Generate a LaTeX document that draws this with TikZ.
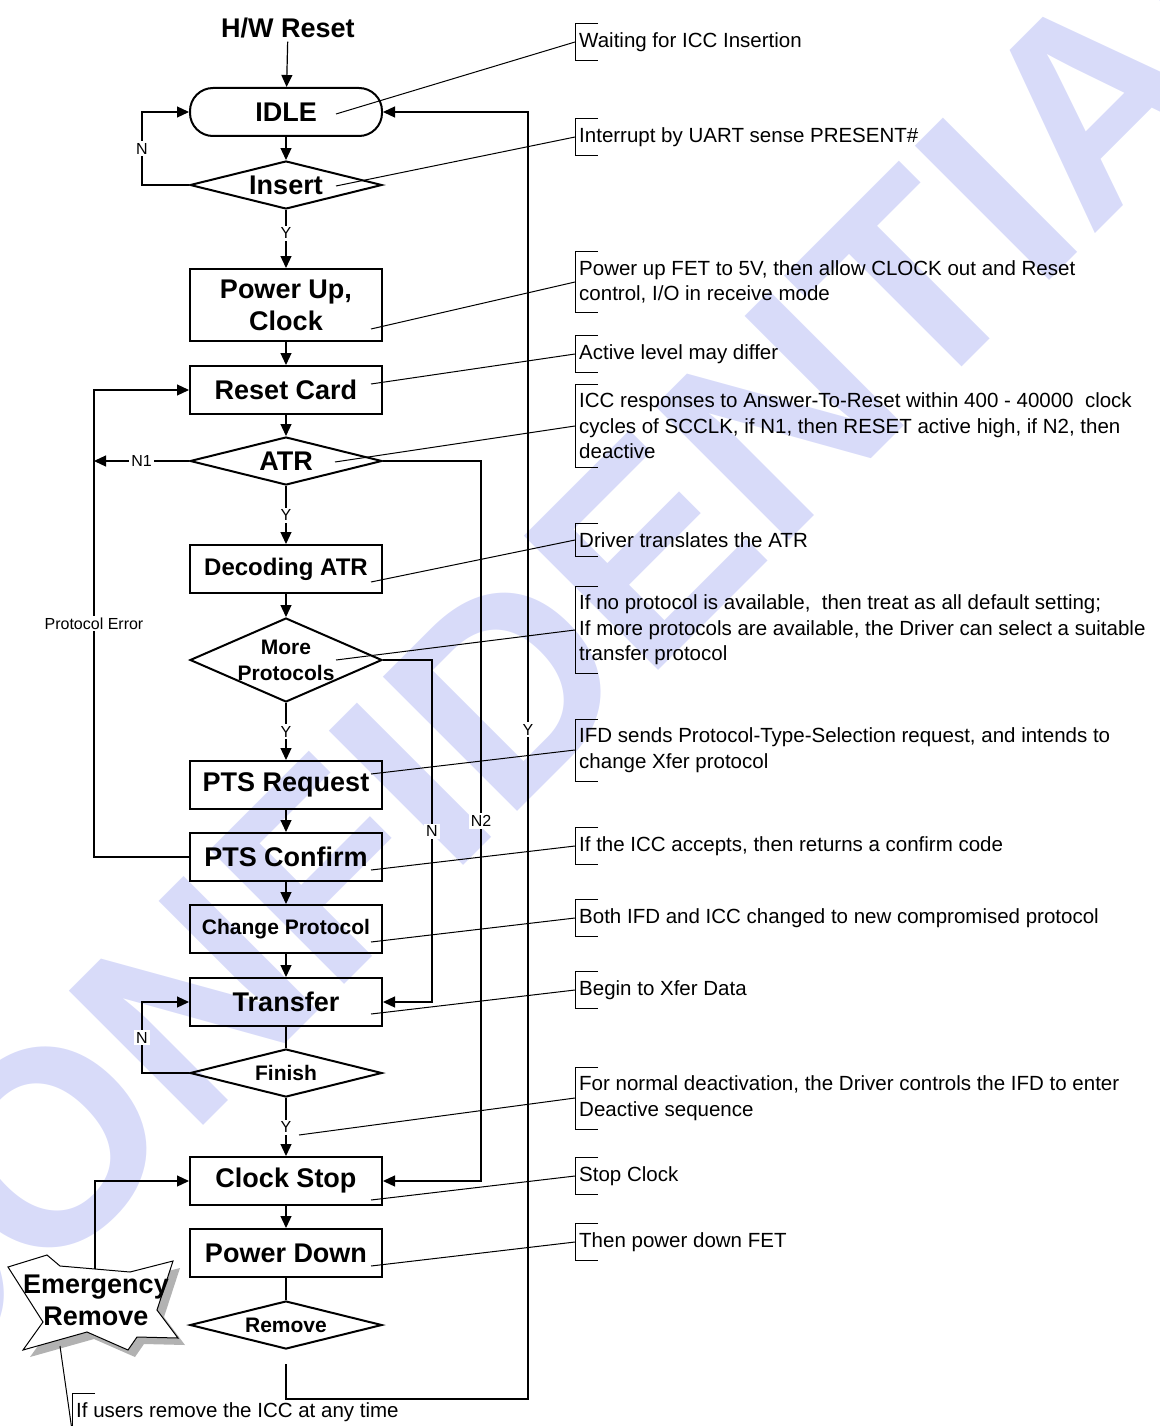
\documentclass[tikz,border=0pt]{standalone}
\usepackage{fontspec}
\setmainfont{Liberation Sans}
\usetikzlibrary{arrows.meta,shapes.geometric}
\definecolor{wmark}{RGB}{216,219,249}
\newcommand{\boxfont}{\bfseries\fontsize{27}{32}\selectfont}
\newcommand{\midfont}{\bfseries\fontsize{24}{28}\selectfont}
\newcommand{\smallboxfont}{\bfseries\fontsize{21}{26}\selectfont}
\newcommand{\notefont}{\fontsize{20.5}{25.5}\selectfont}
\newcommand{\tagfont}{\fontsize{16}{18}\selectfont}

\begin{document}
\begin{tikzpicture}[x=1pt,y=-1pt]
    \tikzstyle{box}=[rectangle,draw,line width=2pt,minimum width=192pt,minimum height=48pt,inner sep=0pt,font=\boxfont,align=center]
    \tikzstyle{terminal}=[box,rounded corners=23pt]
    \tikzstyle{decision}=[diamond,draw,line width=2pt,minimum width=192pt,minimum height=48pt,aspect=4,inner sep=0pt,font=\boxfont,align=center]
    \tikzstyle{flow}=[line width=1.2pt,-{Triangle[length=12pt,width=11pt]}]
    \tikzstyle{line}=[line width=1.2pt]
    \tikzstyle{yn}=[fill=white,inner sep=2pt,font=\tagfont]
    \tikzstyle{note}=[anchor=west,align=left,inner xsep=4pt,inner ysep=8.5pt,font=\notefont]
    \tikzstyle{bracket}=[line width=1pt]
    \tikzstyle{leader}=[line width=1pt]
    \useasboundingbox (0,0) rectangle (1159,1426);
    % watermark
    \node (wm) at (557,638) [rotate=45,text=wmark,inner sep=0pt,font=\bfseries\fontsize{276}{276}\selectfont] {CONFIDENTIAL};
    % flow chart
    \node (hwreset)   at (288,28)    [font=\boxfont] {H/W Reset};
    \node (idle)      at (286,112)   [terminal,minimum height=48pt] {IDLE};
    \node (insert)    at (286,185)   [decision] {Insert};
    \node (power)     at (286,305)   [box,minimum height=72pt] {Power Up,\\Clock};
    \node (reset)     at (286,390)   [box] {Reset Card};
    \node (atr)       at (286,461)   [decision] {ATR};
    \node (decode)    at (286,569)   [box,font=\midfont] {Decoding ATR};
    \node (more)      at (286,660)   [decision,minimum height=84pt,aspect=2.29,inner sep=-3pt,font=\smallboxfont] {More\\Protocols};
    \node (ptsreq)    at (286,785)   [box] {PTS Request};
    \node (ptsconf)   at (286,857)   [box] {PTS Confirm};
    \node (change)    at (286,929)   [box,font=\smallboxfont] {Change Protocol};
    \node (transfer)  at (286,1002)  [box] {Transfer};
    \node (finish)    at (286,1073)  [decision,font=\smallboxfont] {Finish};
    \node (clockstop) at (286,1181)  [box] {Clock Stop};
    \node (powerdown) at (286,1253)  [box] {Power Down};
    \node (remove)    at (286,1325)  [decision,font=\smallboxfont] {Remove};
    % emergency burst
    \fill[black!30,shift={(7,7)}] (47,1255) -- (60,1266) -- (130,1272) -- (173,1261) -- (157,1310) -- (178,1338) -- (137,1337) -- (128,1350) -- (87,1332) -- (23,1350) -- (43,1322) -- (8,1267) -- cycle;
    \draw[fill=white,line width=1pt] (47,1255) -- (60,1266) -- (130,1272) -- (173,1261) -- (157,1310) -- (178,1338) -- (137,1337) -- (128,1350) -- (87,1332) -- (23,1350) -- (43,1322) -- (8,1267) -- cycle;
    \node (emerg) at (96,1300) [font=\boxfont,align=center,inner sep=0pt] {Emergency\\Remove};
    \coordinate (emtop) at (95,1269);
    \coordinate (embot) at (60,1346);
    % connectors
    \draw [flow] (hwreset) -- (idle);
    \draw [flow] (idle) -- (insert);
    \draw [flow] (insert) -- (power) node [yn,pos=0.4] {Y};
    \draw [flow] (power) -- (reset);
    \draw [flow] (reset) -- (atr);
    \draw [flow] (atr) -- (decode) node [yn,midway] {Y};
    \draw [flow] (decode) -- (more);
    \draw [flow] (more) -- (ptsreq) node [yn,midway] {Y};
    \draw [flow] (ptsreq) -- (ptsconf);
    \draw [flow] (ptsconf) -- (change);
    \draw [flow] (change) -- (transfer);
    \draw [line] (transfer) -- (finish);
    \draw [flow] (finish) -- (clockstop) node (yfin) [yn,midway] {Y};
    \draw [flow] (clockstop) -- (powerdown);
    \draw [line] (powerdown) -- (remove);
    \draw [flow] (insert.west) -- ++(-47,0) |- (idle.west) node [yn,pos=0.25] {N};
    \draw [flow] (finish.west) -- ++(-47,0) |- (transfer.west) node [yn,pos=0.25] {N};
    \draw [flow] (atr.west) -- ++(-95,0) node [yn,midway] {N1};
    \draw [flow] (ptsconf.west) -- ++(-95,0) |- (reset.west) node [yn,pos=0.25] {Protocol Error};
    \draw [flow] (atr.east) -- ++(98,0) |- (clockstop.east) node [yn,pos=0.25] {N2};
    \draw [flow] (more.east) -- ++(49,0) |- (transfer.east) node [yn,pos=0.25] {N};
    \draw [flow] ([yshift=-14pt]remove.south) -- ++(0,35) -| ([xshift=145pt]idle.east) node [yn,pos=0.76] {Y} -- (idle.east);
    \draw [flow] (emtop) |- (clockstop.west);
    % annotations
    \node (waitnote) at (575,42)   [note] {Waiting for ICC Insertion};
    \node (intnote)  at (575,137)  [note] {Interrupt by UART sense PRESENT\#};
    \node (pwrnote)  at (575,282)  [note] {Power up FET to 5V, then allow CLOCK out and Reset\\control, I/O in receive mode};
    \node (actnote)  at (575,354)  [note] {Active level may differ};
    \node (iccnote)  at (575,426)  [note] {ICC responses to Answer-To-Reset within 400 - 40000\ \ clock\\cycles of SCCLK, if N1, then RESET active high, if N2, then\\deactive};
    \node (drvnote)  at (575,540)  [note] {Driver translates the ATR};
    \node (protnote) at (575,630)  [note] {If no protocol is available,\ \ then treat as all default setting;\\If more protocols are available, the Driver can select a suitable\\transfer protocol};
    \node (ifdnote)  at (575,750)  [note] {IFD sends Protocol-Type-Selection request, and intends to\\change Xfer protocol};
    \node (accnote)  at (575,846)  [note] {If the ICC accepts, then returns a confirm code};
    \node (bothnote) at (575,918)  [note] {Both IFD and ICC changed to new compromised protocol};
    \node (xfernote) at (575,990)  [note] {Begin to Xfer Data};
    \node (normnote) at (575,1098) [note] {For normal deactivation, the Driver controls the IFD to enter\\Deactive sequence};
    \node (stopnote) at (575,1176) [note] {Stop Clock};
    \node (fetnote)  at (575,1242) [note] {Then power down FET};
    \node (usernote) at (72,1412)  [note] {If users remove the ICC at any time};
    \foreach \n in {waitnote,intnote,pwrnote,actnote,iccnote,drvnote,protnote,ifdnote,accnote,bothnote,xfernote,normnote,stopnote,fetnote,usernote}
        \draw [bracket] ([xshift=23pt]\n.north west) -- (\n.north west) -- (\n.south west) -- ([xshift=23pt]\n.south west);
    \draw [leader] ([shift={(50,2)}]idle.center) -- (waitnote.west);
    \draw [leader] ([shift={(50,1)}]insert.center) -- (intnote.west);
    \draw [leader] ([shift={(85,24)}]power.center) -- (pwrnote.west);
    \draw [leader] ([shift={(85,-6)}]reset.center) -- (actnote.west);
    \draw [leader] ([shift={(49,1)}]atr.center) -- (iccnote.west);
    \draw [leader] ([shift={(85,13)}]decode.center) -- (drvnote.west);
    \draw [leader] ([shift={(50,0)}]more.center) -- (protnote.west);
    \draw [leader] ([shift={(85,-11)}]ptsreq.center) -- (ifdnote.west);
    \draw [leader] ([shift={(85,13)}]ptsconf.center) -- (accnote.west);
    \draw [leader] ([shift={(85,13)}]change.center) -- (bothnote.west);
    \draw [leader] ([shift={(85,12)}]transfer.center) -- (xfernote.west);
    \draw [leader] ([shift={(13,8)}]yfin.center) -- (normnote.west);
    \draw [leader] ([shift={(85,19)}]clockstop.center) -- (stopnote.west);
    \draw [leader] ([shift={(85,13)}]powerdown.center) -- (fetnote.west);
    \draw [leader] (embot) -- (usernote.south west);
\end{tikzpicture}
\end{document}
